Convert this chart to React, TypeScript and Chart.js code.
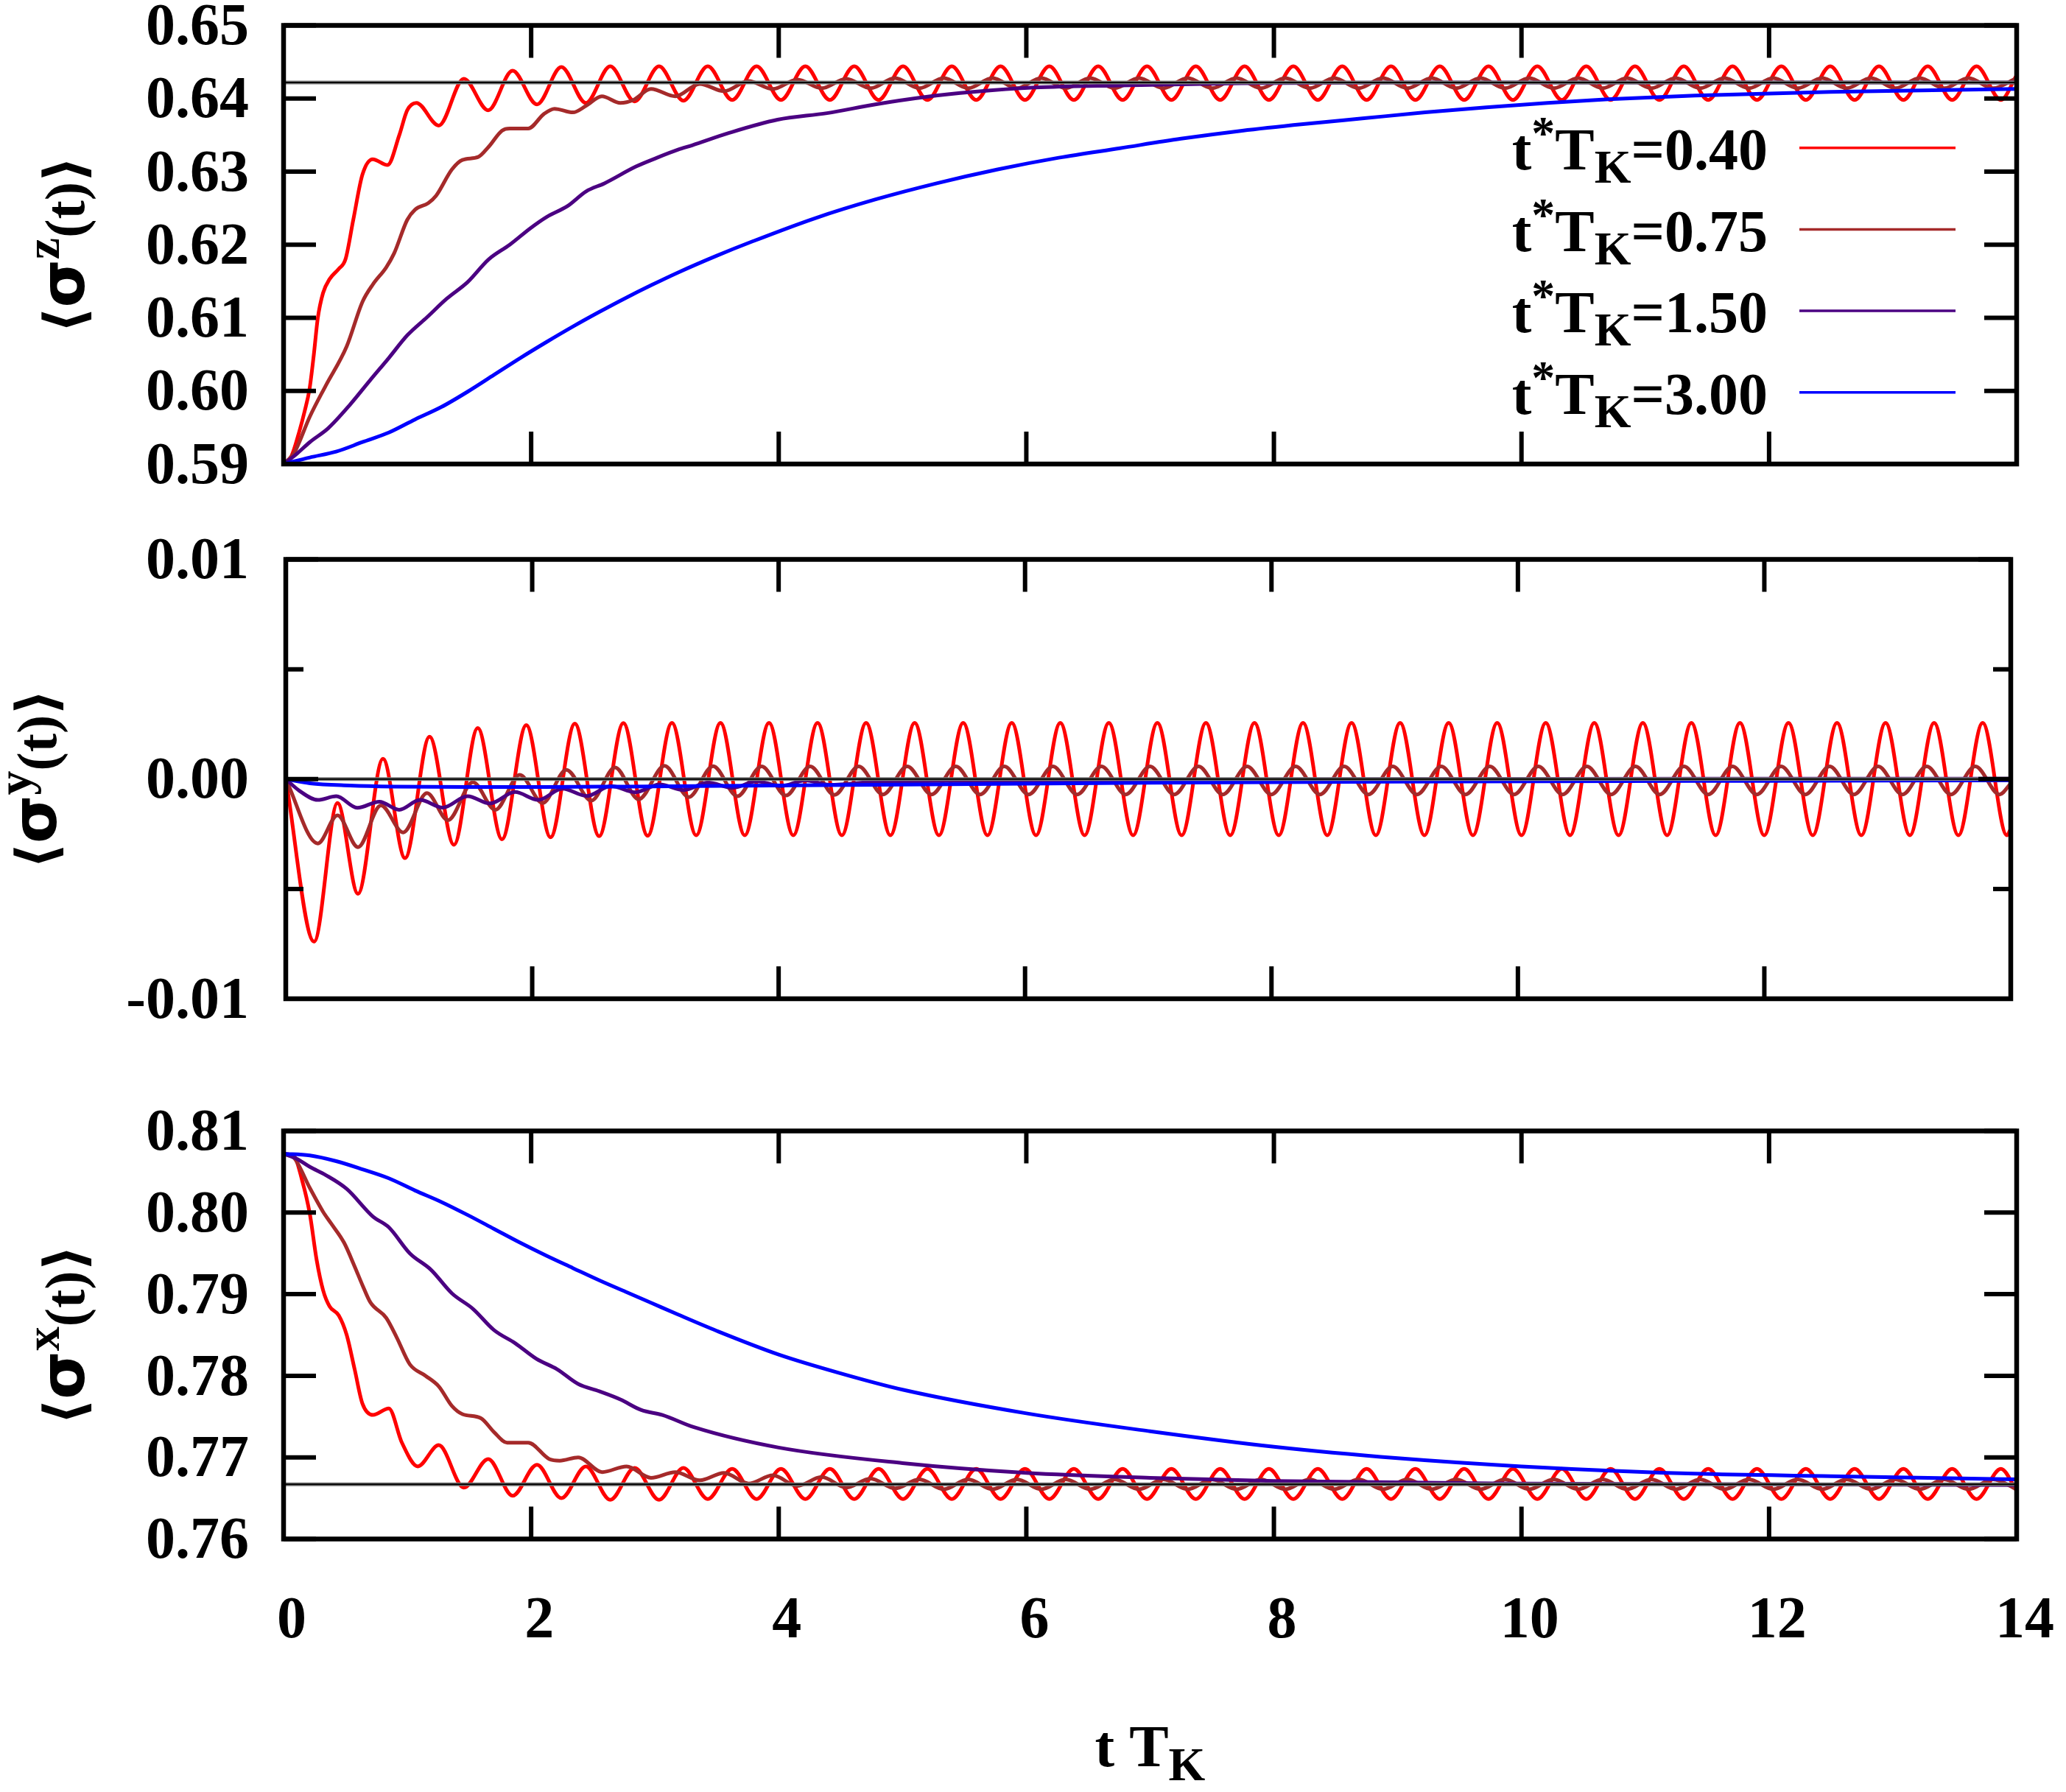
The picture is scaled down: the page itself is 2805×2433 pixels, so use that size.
import { useEffect, useRef } from "react";
import { Chart, registerables } from "chart.js";

Chart.register(...registerables);

type Pt = [number, number];

const SERIF = '"Liberation Serif", "Times New Roman", serif';
const SANS = '"DejaVu Sans", "Liberation Sans", sans-serif';
const PAGE_W = 2805;
const PAGE_H = 2433;

// one curve per t*T_K value
const seriesLabels = ["0.40", "0.75", "1.50", "3.00"];
const seriesColors = ["#ff0000", "#a52a2a", "#4b0082", "#0000ff"];

const timeTicks = [0, 2, 4, 6, 8, 10, 12, 14];
const sigmaZTicks = [0.59, 0.6, 0.61, 0.62, 0.63, 0.64, 0.65];
const sigmaYTicks = [-0.01, 0, 0.01];
const sigmaYMinorTicks = [-0.005, 0.005];
const sigmaXTicks = [0.76, 0.77, 0.78, 0.79, 0.8, 0.81];

// long-time (equilibrium) values, drawn as horizontal reference lines
const sigmaZEq = 0.6422;
const sigmaYEq = 0;
const sigmaXEq = 0.7667;

// <sigma^z(t)>
const sigmaZ_040: Pt[] = [
  [0, 0.59], [0.064, 0.5911], [0.128, 0.5945], [0.17, 0.5972], [0.21, 0.6003], [0.244, 0.6049], [0.276, 0.6099],
  [0.319, 0.6134], [0.372, 0.6153], [0.446, 0.6167], [0.5, 0.618], [0.563, 0.6234], [0.637, 0.6296], [0.72, 0.6317],
  [0.84, 0.6309], [0.935, 0.635], [0.999, 0.6384], [1.073, 0.6394], [1.254, 0.6363],
  [1.456, 0.6427], [1.653, 0.6384], [1.85, 0.6438], [2.047, 0.6392], [2.244, 0.6443], [2.442, 0.6394],
  [2.639, 0.6444], [2.836, 0.6396], [3.033, 0.6444], [3.23, 0.6397],
  [3.427, 0.6444], [3.624, 0.6398], [3.821, 0.6444], [4.018, 0.6398], [4.215, 0.6444], [4.413, 0.6398],
  [4.61, 0.6444], [4.807, 0.6398], [5.004, 0.6444], [5.201, 0.6398], [5.398, 0.6444], [5.595, 0.6398],
  [5.792, 0.6444], [5.989, 0.6398], [6.186, 0.6444], [6.384, 0.6398], [6.581, 0.6444], [6.778, 0.6398],
  [6.975, 0.6444], [7.172, 0.6398], [7.369, 0.6444], [7.566, 0.6398], [7.763, 0.6444], [7.96, 0.6398],
  [8.157, 0.6444], [8.355, 0.6398], [8.552, 0.6444], [8.749, 0.6398], [8.946, 0.6444], [9.143, 0.6398],
  [9.34, 0.6444], [9.537, 0.6398], [9.734, 0.6444], [9.931, 0.6398], [10.128, 0.6444], [10.326, 0.6398],
  [10.523, 0.6444], [10.72, 0.6398], [10.917, 0.6444], [11.114, 0.6398], [11.311, 0.6444], [11.508, 0.6398],
  [11.705, 0.6444], [11.902, 0.6398], [12.099, 0.6444], [12.297, 0.6398], [12.494, 0.6444], [12.691, 0.6398],
  [12.888, 0.6444], [13.085, 0.6398], [13.282, 0.6444], [13.479, 0.6398], [13.676, 0.6444], [13.873, 0.6398],
  [14, 0.6432],
];

const sigmaZ_075: Pt[] = [
  [0, 0.59], [0.085, 0.5915], [0.2125, 0.5965], [0.34, 0.6007], [0.51, 0.6061], [0.6375, 0.6122], [0.7225, 0.6146],
  [0.829, 0.6169], [0.8925, 0.6188], [0.999, 0.6234], [1.0625, 0.6248], [1.169, 0.6257], [1.232, 0.6267],
  [1.36, 0.6303], [1.445, 0.6316], [1.572, 0.632], [1.657, 0.6334], [1.764, 0.6356], [1.827, 0.6359],
  [1.976, 0.6359], [2.104, 0.6379], [2.189, 0.6386], [2.337, 0.6381], [2.444, 0.639], [2.571, 0.6403],
  [2.72, 0.6394], [2.826, 0.6398], [2.968, 0.6413], [3.165, 0.6403],
  [3.362, 0.642], [3.559, 0.641], [3.756, 0.6424], [3.953, 0.6413], [4.15, 0.6426], [4.347, 0.6414],
  [4.545, 0.6427], [4.742, 0.6414], [4.939, 0.6428], [5.136, 0.6414], [5.333, 0.6428], [5.53, 0.6414],
  [5.727, 0.6428], [5.924, 0.6414], [6.121, 0.6428], [6.318, 0.6414], [6.516, 0.6428], [6.713, 0.6414],
  [6.91, 0.6428], [7.107, 0.6414], [7.304, 0.6428], [7.501, 0.6414], [7.698, 0.6428], [7.895, 0.6414],
  [8.092, 0.6428], [8.289, 0.6414], [8.487, 0.6428], [8.684, 0.6414], [8.881, 0.6428], [9.078, 0.6414],
  [9.275, 0.6428], [9.472, 0.6414], [9.669, 0.6428], [9.866, 0.6414], [10.063, 0.6428], [10.26, 0.6414],
  [10.458, 0.6428], [10.655, 0.6414], [10.852, 0.6428], [11.049, 0.6414], [11.246, 0.6428], [11.443, 0.6414],
  [11.64, 0.6428], [11.837, 0.6414], [12.034, 0.6428], [12.231, 0.6414], [12.429, 0.6428], [12.626, 0.6414],
  [12.823, 0.6428], [13.02, 0.6414], [13.217, 0.6428], [13.414, 0.6414], [13.611, 0.6428], [13.808, 0.6414],
  [14, 0.6428],
];

const sigmaZ_150: Pt[] = [
  [0, 0.59], [0.1, 0.5913], [0.2125, 0.593], [0.361, 0.5949], [0.531, 0.598], [0.701, 0.6015], [0.85, 0.6045],
  [0.999, 0.6076], [1.16, 0.6101], [1.317, 0.6126], [1.4875, 0.6149], [1.657, 0.618], [1.827, 0.62],
  [1.997, 0.6223], [2.125, 0.6238], [2.295, 0.6253], [2.444, 0.6273], [2.592, 0.6284], [2.847, 0.6307],
  [3.017, 0.6319], [3.187, 0.633], [3.3, 0.6336], [3.6, 0.6353], [3.99, 0.6371], [4.39, 0.638], [4.78, 0.6392],
  [5.18, 0.6402], [5.57, 0.6409], [6.07, 0.6415], [6.76, 0.6418], [7.74, 0.6421], [9, 0.6422], [14, 0.6422],
];

const sigmaZ_300: Pt[] = [
  [0, 0.59], [0.2125, 0.5909], [0.425, 0.5917], [0.6375, 0.593], [0.85, 0.5943], [1.0625, 0.5961], [1.275, 0.5978],
  [1.4875, 0.5999], [1.7, 0.6022], [1.912, 0.6045], [2.125, 0.6067], [2.337, 0.6088], [2.55, 0.6108],
  [2.762, 0.6127], [2.975, 0.6145], [3.187, 0.6162], [3.5, 0.6185], [3.795, 0.6205], [4.289, 0.6236],
  [4.783, 0.6262], [5.276, 0.6284], [5.769, 0.6303], [6.262, 0.6319], [6.756, 0.6332], [7.25, 0.6345],
  [7.743, 0.6356], [8.236, 0.6365], [8.729, 0.6373], [9.222, 0.6381], [9.716, 0.6388], [10.21, 0.6394],
  [10.7, 0.6399], [11.4, 0.6404], [12.5, 0.6409], [14, 0.6413],
];

// <sigma^y(t)>
const sigmaY_040: Pt[] = [
  [0, 0], [0.23, -0.0074], [0.42, -0.00109], [0.586, -0.00522], [0.789, 0.00092], [0.968, -0.0036],
  [1.167, 0.00193], [1.365, -0.00299], [1.558, 0.00232], [1.755, -0.00274], [1.952, 0.00246], [2.149, -0.00265],
  [2.346, 0.00252], [2.543, -0.0026], [2.74, 0.00255], [2.937, -0.00258],
  [3.134, 0.00256], [3.331, -0.00256], [3.528, 0.00256], [3.725, -0.00256], [3.922, 0.00256], [4.119, -0.00256],
  [4.316, 0.00256], [4.513, -0.00256], [4.71, 0.00256], [4.907, -0.00256], [5.104, 0.00256], [5.301, -0.00256],
  [5.498, 0.00256], [5.695, -0.00256], [5.892, 0.00256], [6.089, -0.00256], [6.286, 0.00256], [6.483, -0.00256],
  [6.68, 0.00256], [6.877, -0.00256], [7.074, 0.00256], [7.271, -0.00256], [7.468, 0.00256], [7.665, -0.00256],
  [7.862, 0.00256], [8.059, -0.00256], [8.256, 0.00256], [8.453, -0.00256], [8.65, 0.00256], [8.847, -0.00256],
  [9.044, 0.00256], [9.241, -0.00256], [9.438, 0.00256], [9.635, -0.00256], [9.832, 0.00256], [10.029, -0.00256],
  [10.226, 0.00256], [10.423, -0.00256], [10.62, 0.00256], [10.817, -0.00256], [11.014, 0.00256], [11.211, -0.00256],
  [11.408, 0.00256], [11.605, -0.00256], [11.802, 0.00256], [11.999, -0.00256], [12.196, 0.00256], [12.393, -0.00256],
  [12.59, 0.00256], [12.787, -0.00256], [12.984, 0.00256], [13.181, -0.00256], [13.378, 0.00256], [13.575, -0.00256],
  [13.772, 0.00256], [13.969, -0.00256], [14, -0.00226],
];

const sigmaY_075: Pt[] = [
  [0, 0], [0.26, -0.00293], [0.42, -0.00165], [0.586, -0.0031], [0.772, -0.0012], [0.953, -0.00243],
  [1.146, -0.00064], [1.316, -0.00187], [1.519, -0.00014], [1.7, -0.0014], [1.899, 0.00019], [2.085, -0.00109],
  [2.277, 0.00042], [2.48, -0.00098], [2.672, 0.00053], [2.864, -0.00092], [3.074, 0.0006], [3.271, -0.00082],
  [3.468, 0.00059], [3.665, -0.00078], [3.862, 0.00058], [4.059, -0.00075], [4.256, 0.00058], [4.453, -0.00072],
  [4.65, 0.00058], [4.847, -0.0007], [5.044, 0.00058], [5.241, -0.0007], [5.438, 0.00058], [5.635, -0.0007],
  [5.832, 0.00058], [6.029, -0.0007], [6.226, 0.00058], [6.423, -0.0007], [6.62, 0.00058], [6.817, -0.0007],
  [7.014, 0.00058], [7.211, -0.0007], [7.408, 0.00058], [7.605, -0.0007], [7.802, 0.00058], [7.999, -0.0007],
  [8.196, 0.00058], [8.393, -0.0007], [8.59, 0.00058], [8.787, -0.0007], [8.984, 0.00058], [9.181, -0.0007],
  [9.378, 0.00058], [9.575, -0.0007], [9.772, 0.00058], [9.969, -0.0007], [10.166, 0.00058], [10.363, -0.0007],
  [10.56, 0.00058], [10.757, -0.0007], [10.954, 0.00058], [11.151, -0.0007], [11.348, 0.00058], [11.545, -0.0007],
  [11.742, 0.00058], [11.939, -0.0007], [12.136, 0.00058], [12.333, -0.0007], [12.53, 0.00058], [12.727, -0.0007],
  [12.924, 0.00058], [13.121, -0.0007], [13.318, 0.00058], [13.515, -0.0007], [13.712, 0.00058], [13.909, -0.0007],
  [14, -0.0002],
];

const sigmaY_150: Pt[] = [
  [0, 0], [0.11, -0.00053], [0.26, -0.00095], [0.41, -0.00078], [0.58, -0.00131], [0.76, -0.00103], [0.92, -0.0014],
  [1.09, -0.00095], [1.274, -0.0013], [1.476, -0.00078], [1.658, -0.00111], [1.86, -0.00059], [2.049, -0.00095],
  [2.246, -0.00044], [2.443, -0.00077], [2.64, -0.00032], [2.837, -0.0006], [3.034, -0.00024], [3.231, -0.0005],
  [3.428, -0.00016], [3.625, -0.0004], [3.822, -0.0001], [4.019, -0.00032], [4.216, -0.00006], [4.413, -0.00026],
  [4.8, -0.00012], [5.5, -0.00008], [7, -0.00003], [9, 0], [14, 0.00002],
];

const sigmaY_300: Pt[] = [
  [0, 0], [0.196, -0.00019], [0.52, -0.00029], [0.88, -0.00034], [1.476, -0.00036], [2.1, -0.00036],
  [2.76, -0.00034], [3.32, -0.00032], [5, -0.00025], [7, -0.00017], [9, -0.00012], [12, -0.00008], [14, -0.00006],
];

// <sigma^x(t)>
const sigmaX_040: Pt[] = [
  [0, 0.8072], [0.085, 0.8069], [0.149, 0.804], [0.2125, 0.7998], [0.266, 0.7943], [0.319, 0.7905], [0.372, 0.7885],
  [0.446, 0.7874], [0.51, 0.785], [0.574, 0.7808], [0.637, 0.7766], [0.7225, 0.7752], [0.85, 0.776], [0.956, 0.7718],
  [1.084, 0.7689], [1.254, 0.7715], [1.456, 0.7663], [1.653, 0.7698], [1.85, 0.7653], [2.047, 0.7691],
  [2.244, 0.765], [2.442, 0.7689], [2.639, 0.7648], [2.836, 0.7687], [3.033, 0.7648], [3.23, 0.7687],
  [3.427, 0.7649], [3.624, 0.7686], [3.821, 0.7649], [4.018, 0.7686], [4.215, 0.7649], [4.413, 0.7686],
  [4.61, 0.7649], [4.807, 0.7686], [5.004, 0.7649], [5.201, 0.7686], [5.398, 0.7649], [5.595, 0.7686],
  [5.792, 0.7649], [5.989, 0.7686], [6.186, 0.7649], [6.384, 0.7686], [6.581, 0.7649], [6.778, 0.7686],
  [6.975, 0.7649], [7.172, 0.7686], [7.369, 0.7649], [7.566, 0.7686], [7.763, 0.7649], [7.96, 0.7686],
  [8.157, 0.7649], [8.355, 0.7686], [8.552, 0.7649], [8.749, 0.7686], [8.946, 0.7649], [9.143, 0.7686],
  [9.34, 0.7649], [9.537, 0.7686], [9.734, 0.7649], [9.931, 0.7686], [10.128, 0.7649], [10.326, 0.7686],
  [10.523, 0.7649], [10.72, 0.7686], [10.917, 0.7649], [11.114, 0.7686], [11.311, 0.7649], [11.508, 0.7686],
  [11.705, 0.7649], [11.902, 0.7686], [12.099, 0.7649], [12.297, 0.7686], [12.494, 0.7649], [12.691, 0.7686],
  [12.888, 0.7649], [13.085, 0.7686], [13.282, 0.7649], [13.479, 0.7686], [13.676, 0.7649], [13.873, 0.7686],
  [14, 0.7659],
];

const sigmaX_075: Pt[] = [
  [0, 0.8072], [0.085, 0.8067], [0.2125, 0.803], [0.319, 0.8001], [0.3825, 0.7987], [0.489, 0.7963], [0.574, 0.7934],
  [0.6375, 0.7911], [0.701, 0.789], [0.829, 0.7871], [0.914, 0.7847], [1.02, 0.7814], [1.147, 0.78], [1.254, 0.7787],
  [1.36, 0.7763], [1.445, 0.7753], [1.594, 0.7748], [1.7, 0.7731], [1.806, 0.7718], [1.976, 0.7718],
  [2.146, 0.7698], [2.231, 0.7696], [2.38, 0.77], [2.574, 0.7682], [2.771, 0.7689], [2.968, 0.7675],
  [3.165, 0.7682], [3.362, 0.7672], [3.559, 0.7681], [3.756, 0.7668], [3.953, 0.7678], [4.15, 0.7665],
  [4.347, 0.7676], [4.545, 0.7663], [4.742, 0.7674], [4.939, 0.7662], [5.136, 0.7673],
  [5.333, 0.7661], [5.53, 0.7673], [5.727, 0.7661], [5.924, 0.7673], [6.121, 0.7661], [6.318, 0.7673],
  [6.516, 0.7661], [6.713, 0.7673], [6.91, 0.7661], [7.107, 0.7673], [7.304, 0.7661], [7.501, 0.7673],
  [7.698, 0.7661], [7.895, 0.7673], [8.092, 0.7661], [8.289, 0.7673], [8.487, 0.7661], [8.684, 0.7673],
  [8.881, 0.7661], [9.078, 0.7673], [9.275, 0.7661], [9.472, 0.7673], [9.669, 0.7661], [9.866, 0.7673],
  [10.063, 0.7661], [10.26, 0.7673], [10.458, 0.7661], [10.655, 0.7673], [10.852, 0.7661], [11.049, 0.7673],
  [11.246, 0.7661], [11.443, 0.7673], [11.64, 0.7661], [11.837, 0.7673], [12.034, 0.7661], [12.231, 0.7673],
  [12.429, 0.7661], [12.626, 0.7673], [12.823, 0.7661], [13.02, 0.7673], [13.217, 0.7661], [13.414, 0.7673],
  [13.611, 0.7661], [13.808, 0.7673], [14, 0.7661],
];

const sigmaX_150: Pt[] = [
  [0, 0.8072], [0.106, 0.8066], [0.2125, 0.8056], [0.34, 0.8046], [0.51, 0.8029], [0.7225, 0.7995], [0.85, 0.7982],
  [1.02, 0.795], [1.19, 0.793], [1.36, 0.7901], [1.53, 0.7882], [1.7, 0.7856], [1.87, 0.784], [2.04, 0.7821],
  [2.21, 0.7808], [2.38, 0.779], [2.55, 0.7781], [2.72, 0.7771], [2.89, 0.7758], [3.06, 0.7752], [3.315, 0.7737],
  [4, 0.7712], [5, 0.7693], [6, 0.7681], [7, 0.7675], [8, 0.7671], [10, 0.7668], [12, 0.7667], [14, 0.7666],
];

const sigmaX_300: Pt[] = [
  [0, 0.8072], [0.2125, 0.807], [0.425, 0.8063], [0.6375, 0.8053], [0.85, 0.8042], [1.0625, 0.8027], [1.275, 0.8013],
  [1.4875, 0.7997], [1.7, 0.798], [1.912, 0.7963], [2.125, 0.7947], [2.337, 0.7932], [2.55, 0.7917],
  [2.762, 0.7903], [2.975, 0.7889], [3.187, 0.7875], [3.5, 0.7855], [4, 0.7826], [4.5, 0.7803], [5, 0.7783],
  [6, 0.7754], [7, 0.7732], [8, 0.7713], [9, 0.7699], [10, 0.7689], [11.4, 0.768], [12.5, 0.7677], [14, 0.7673],
];

interface Area { l: number; r: number; t: number; b: number }

interface PanelSpec {
  key: string;
  comp: string;
  series: Pt[][];
  eq: number;
  yMin: number;
  yMax: number;
  yTicks: number[];
  yMinor: number[];
  area: Area;
  canvasTop: number;
  canvasHeight: number;
  showTime: boolean;
  titleX: number;
  legend: boolean;
}

const panels: PanelSpec[] = [
  {
    key: "z", comp: "z", series: [sigmaZ_040, sigmaZ_075, sigmaZ_150, sigmaZ_300], eq: sigmaZEq,
    yMin: 0.59, yMax: 0.65, yTicks: sigmaZTicks, yMinor: [],
    area: { l: 385, r: 2738, t: 34.5, b: 630 }, canvasTop: -66, canvasHeight: 796,
    showTime: false, titleX: 114, legend: true,
  },
  {
    key: "y", comp: "y", series: [sigmaY_040, sigmaY_075, sigmaY_150, sigmaY_300], eq: sigmaYEq,
    yMin: -0.01, yMax: 0.01, yTicks: sigmaYTicks, yMinor: sigmaYMinorTicks,
    area: { l: 388, r: 2730, t: 759.5, b: 1356 }, canvasTop: 659, canvasHeight: 797,
    showTime: false, titleX: 76, legend: false,
  },
  {
    key: "x", comp: "x", series: [sigmaX_040, sigmaX_075, sigmaX_150, sigmaX_300], eq: sigmaXEq,
    yMin: 0.76, yMax: 0.81, yTicks: sigmaXTicks, yMinor: [],
    area: { l: 385, r: 2738, t: 1535.5, b: 2089.5 }, canvasTop: 1435, canvasHeight: 998,
    showTime: true, titleX: 114, legend: false,
  },
];

const MAJOR_TICK = 44;
const MINOR_TICK = 24;
const TICK_LABEL_RIGHT = 338;
// distance from the lower frame to the middle of the time labels
const TIME_LABEL_DROP = 113;

interface Piece { text: string; font: string; dy: number }

function piecesWidth(ctx: CanvasRenderingContext2D, pieces: Piece[]) {
  let w = 0;
  for (const p of pieces) {
    ctx.font = p.font;
    w += ctx.measureText(p.text).width;
  }
  return w;
}

function drawPieces(ctx: CanvasRenderingContext2D, pieces: Piece[], x: number, y: number) {
  let cx = x;
  for (const p of pieces) {
    ctx.font = p.font;
    ctx.fillText(p.text, cx, y + p.dy);
    cx += ctx.measureText(p.text).width;
  }
}

const MAIN_FONT = `bold 80px ${SERIF}`;
const SMALL_FONT = `bold 64px ${SERIF}`;

function Panel({ spec }: { spec: PanelSpec }) {
  const ref = useRef<HTMLCanvasElement | null>(null);

  useEffect(() => {
    const canvas = ref.current;
    if (!canvas) return;
    const { area, canvasTop, canvasHeight } = spec;
    const tickFont = { family: SERIF, size: 80, weight: "bold" as const };

    const datasets: any[] = spec.series.map((pts, i) => ({
      data: pts.map(([x, y]) => ({ x, y })),
      borderColor: seriesColors[i],
      borderWidth: 5,
      pointRadius: 0,
      fill: false,
      cubicInterpolationMode: "monotone",
      order: 5 - i,
    }));
    datasets.push({
      data: [{ x: 0, y: spec.eq }, { x: 14, y: spec.eq }],
      borderColor: "#7a7a7a",
      borderWidth: 5,
      pointRadius: 0,
      fill: false,
      order: 1,
    });
    datasets.push({
      data: [{ x: 0, y: spec.eq }, { x: 14, y: spec.eq }],
      borderColor: "#000000",
      borderWidth: 2,
      pointRadius: 0,
      fill: false,
      order: 0,
    });

    const frameTicks = {
      id: "frameTicks",
      afterDatasetsDraw(chart: any) {
        const { ctx, chartArea: a } = chart;
        const xs = chart.scales.x;
        const ys = chart.scales.y;
        ctx.save();
        ctx.strokeStyle = "#000";
        ctx.lineCap = "butt";
        ctx.lineWidth = 6;
        ctx.beginPath();
        for (const v of timeTicks) {
          const px = xs.getPixelForValue(v);
          ctx.moveTo(px, a.bottom);
          ctx.lineTo(px, a.bottom - MAJOR_TICK);
          ctx.moveTo(px, a.top);
          ctx.lineTo(px, a.top + MAJOR_TICK);
        }
        for (const v of spec.yTicks) {
          const py = ys.getPixelForValue(v);
          ctx.moveTo(a.left, py);
          ctx.lineTo(a.left + MAJOR_TICK, py);
          ctx.moveTo(a.right, py);
          ctx.lineTo(a.right - MAJOR_TICK, py);
        }
        for (const v of spec.yMinor) {
          const py = ys.getPixelForValue(v);
          ctx.moveTo(a.left, py);
          ctx.lineTo(a.left + MINOR_TICK, py);
          ctx.moveTo(a.right, py);
          ctx.lineTo(a.right - MINOR_TICK, py);
        }
        ctx.stroke();
        ctx.lineWidth = 6.5;
        ctx.strokeRect(a.left, a.top, a.right - a.left, a.bottom - a.top);
        ctx.restore();
      },
    };

    const titles = {
      id: "titles",
      afterDraw(chart: any) {
        const ctx: CanvasRenderingContext2D = chart.ctx;
        ctx.save();
        ctx.fillStyle = "#000";
        ctx.textAlign = "left";
        ctx.textBaseline = "alphabetic";

        // vertical axis title  <sigma^c(t)>
        const yPieces: Piece[] = [
          { text: "\u27E8", font: `bold 76px ${SANS}`, dy: 0 },
          { text: "\u03C3", font: `bold 84px ${SANS}`, dy: 0 },
          { text: spec.comp, font: `bold 66px ${SERIF}`, dy: -34 },
          { text: "(t)", font: `bold 76px ${SERIF}`, dy: 0 },
          { text: "\u27E9", font: `bold 76px ${SANS}`, dy: 0 },
        ];
        const cy = (area.t + area.b) / 2 - canvasTop;
        ctx.save();
        ctx.translate(spec.titleX, cy);
        ctx.rotate(-Math.PI / 2);
        const yw = piecesWidth(ctx, yPieces);
        drawPieces(ctx, yPieces, -yw / 2, 0);
        ctx.restore();

        if (spec.legend) {
          seriesLabels.forEach((lab, i) => {
            const base = 230 + i * 110.7 - canvasTop;
            const lineY = 200.7 + i * 110.7 - canvasTop;
            const pieces: Piece[] = [
              { text: "t", font: MAIN_FONT, dy: 0 },
              { text: "*", font: SMALL_FONT, dy: -28 },
              { text: "T", font: MAIN_FONT, dy: 0 },
              { text: "K", font: SMALL_FONT, dy: 18 },
              { text: "=" + lab, font: MAIN_FONT, dy: 0 },
            ];
            const w = piecesWidth(ctx, pieces);
            drawPieces(ctx, pieces, 2400 - w, base);
            ctx.strokeStyle = seriesColors[i];
            ctx.lineWidth = 3.5;
            ctx.beginPath();
            ctx.moveTo(2443, lineY);
            ctx.lineTo(2655, lineY);
            ctx.stroke();
          });
        }

        if (spec.showTime) {
          const xPieces: Piece[] = [
            { text: "t T", font: MAIN_FONT, dy: 0 },
            { text: "K", font: SMALL_FONT, dy: 19 },
          ];
          const w = piecesWidth(ctx, xPieces);
          const cx = (area.l + area.r) / 2;
          drawPieces(ctx, xPieces, cx - w / 2, 2398 - canvasTop);
        }
        ctx.restore();
      },
    };

    const xScale: any = {
      type: "linear",
      min: 0,
      max: 14,
      display: spec.showTime,
      grid: { display: false, drawTicks: false },
      border: { display: false },
      ticks: {
        font: { ...tickFont, lineHeight: (2 * TIME_LABEL_DROP) / 80 },
        color: "#000",
        padding: 0,
        labelOffset: 11,
        maxRotation: 0,
        minRotation: 0,
        autoSkip: false,
        callback: (v: any) => String(v),
      },
      afterBuildTicks: (s: any) => {
        s.ticks = timeTicks.map((v) => ({ value: v }));
      },
    };
    if (spec.showTime) {
      xScale.afterFit = (s: any) => {
        s.height = canvasTop + canvasHeight - area.b;
      };
    }

    const chart = new Chart(canvas, {
      type: "line",
      data: { datasets },
      options: {
        responsive: false,
        animation: false,
        events: [],
        layout: {
          padding: {
            left: 0,
            right: PAGE_W - area.r,
            top: area.t - canvasTop,
            bottom: spec.showTime ? 0 : canvasTop + canvasHeight - area.b,
          },
        },
        scales: {
          x: xScale,
          y: {
            type: "linear",
            min: spec.yMin,
            max: spec.yMax,
            grid: { display: false, drawTicks: false },
            border: { display: false },
            ticks: {
              font: tickFont,
              color: "#000",
              padding: area.l - TICK_LABEL_RIGHT,
              labelOffset: 5,
              autoSkip: false,
              callback: (v: any) => Number(v).toFixed(2),
            },
            afterBuildTicks: (s: any) => {
              s.ticks = spec.yTicks.map((v) => ({ value: v }));
            },
            afterFit: (s: any) => {
              s.width = area.l;
            },
          },
        },
        plugins: {
          legend: { display: false },
          tooltip: { enabled: false },
          title: { display: false },
        },
      },
      plugins: [frameTicks, titles],
    } as any);

    return () => chart.destroy();
  }, [spec]);

  return (
    <canvas
      ref={ref}
      width={PAGE_W}
      height={spec.canvasHeight}
      style={{
        position: "absolute",
        left: 0,
        top: spec.canvasTop,
        width: PAGE_W,
        height: spec.canvasHeight,
      }}
    />
  );
}

export default function App() {
  return (
    <div
      style={{
        position: "absolute",
        left: 0,
        top: 0,
        width: PAGE_W,
        height: PAGE_H,
        background: "#ffffff",
        overflow: "hidden",
      }}
    >
      {panels.map((p) => (
        <Panel key={p.key} spec={p} />
      ))}
    </div>
  );
}
